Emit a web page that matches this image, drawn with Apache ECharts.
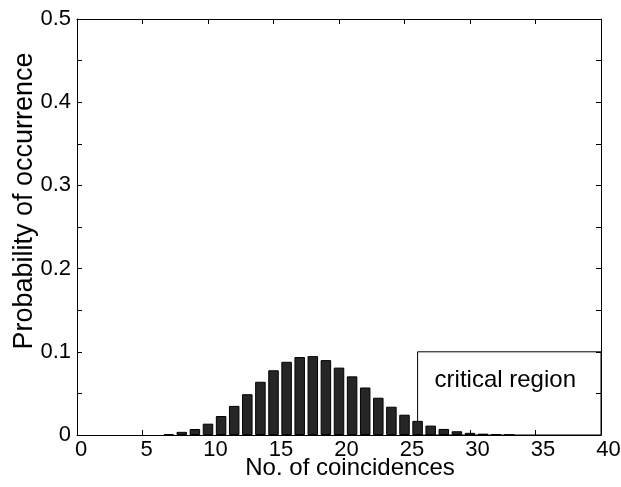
<!DOCTYPE html>
<html>
<head>
<meta charset="utf-8">
<script src="https://cdn.jsdelivr.net/npm/echarts@6/dist/echarts.min.js"></script>
<style>
html,body{margin:0;padding:0;background:#fff;}
#chart{width:621px;height:487px;}
</style>
</head>
<body>
<div id="chart"></div>
<script>
// Data
const coincidences = [7, 8, 9, 10, 11, 12, 13, 14, 15, 16, 17, 18, 19, 20,
                      21, 22, 23, 24, 25, 26, 27, 28, 29, 30, 31, 32, 33];
const probabilities = [0.0012, 0.0038, 0.0072, 0.0136, 0.0228, 0.0350, 0.0490, 0.0640, 0.0778, 0.0880,
                       0.0937, 0.0948, 0.0900, 0.0810, 0.0705, 0.0571, 0.0448, 0.0340, 0.0244, 0.0170,
                       0.0113, 0.0073, 0.0045, 0.0026, 0.0016, 0.0009, 0.0004];
const xTicks = [0, 5, 10, 15, 20, 25, 30, 35, 40];
const yTickLabels = ['0', '0.1', '0.2', '0.3', '0.4', '0.5'];
const criticalStart = 26;
const criticalEnd = 40;
const criticalTop = 0.1;
const criticalLabel = 'critical region';
const xTitle = 'No. of coincidences';
const yTitle = 'Probability of occurrence';

const FONT = "'Liberation Sans', Arial, Helvetica, sans-serif";
const chart = echarts.init(document.getElementById('chart'), null, {renderer: 'canvas'});

const seriesData = coincidences.map((c, i) => [c, probabilities[i]]);

const commonTick = {show: true, inside: true, length: 5, lineStyle: {color: '#000', width: 1}};
const commonLine = {show: true, onZero: false, lineStyle: {color: '#000', width: 1}};

chart.setOption({
  animation: false,
  backgroundColor: '#fff',
  grid: {left: 77, right: 20, top: 19, bottom: 52, containLabel: false, outerBoundsMode: 'none'},
  xAxis: [{
    type: 'value', min: xTicks[0], max: xTicks[xTicks.length - 1], interval: 5,
    position: 'bottom',
    axisLine: commonLine, axisTick: commonTick, splitLine: {show: false},
    axisLabel: {
      margin: 4, color: '#000', fontFamily: FONT, fontSize: 22,
      formatter: v => (v < 10 ? '{a|' + v + '}' : '{b|' + v + '}'),
      rich: {
        a: {padding: [0, 0, 0, 8], color: '#000', fontFamily: FONT, fontSize: 22},
        b: {padding: [0, 0, 0, 15], color: '#000', fontFamily: FONT, fontSize: 22}
      }
    },
    name: xTitle, nameLocation: 'middle', nameGap: 21, nameMoveOverlap: false,
    nameTextStyle: {color: '#000', fontFamily: FONT, fontSize: 24, padding: [0, 0, 0, 22]}
  }, {
    type: 'value', min: xTicks[0], max: xTicks[xTicks.length - 1], interval: 5,
    position: 'top',
    axisLine: commonLine, axisTick: commonTick, splitLine: {show: false},
    axisLabel: {show: false}
  }],
  yAxis: [{
    type: 'value', min: 0, max: 0.5, interval: 0.05,
    position: 'left',
    axisLine: commonLine, axisTick: commonTick, splitLine: {show: false},
    axisLabel: {
      margin: 6, color: '#000', fontFamily: FONT, fontSize: 22,
      formatter: v => {
        const k = Math.round(v * 100);
        return k % 10 === 0 ? yTickLabels[k / 10] : '';
      }
    },
    name: yTitle, nameLocation: 'middle', nameGap: 39, nameRotate: 90, nameMoveOverlap: false,
    nameTextStyle: {color: '#000', fontFamily: FONT, fontSize: 27, padding: [0, 0, 0, 52]}
  }, {
    type: 'value', min: 0, max: 0.5, interval: 0.05,
    position: 'right',
    axisLine: commonLine, axisTick: commonTick, splitLine: {show: false},
    axisLabel: {show: false}
  }],
  series: [{
    type: 'bar',
    xAxisIndex: 0, yAxisIndex: 0,
    data: seriesData,
    barWidth: 10.5,
    itemStyle: {color: '#262626', borderColor: '#000', borderWidth: 1},
    markArea: {
      silent: true,
      itemStyle: {color: 'rgba(0,0,0,0)', borderColor: '#000', borderWidth: 1},
      label: {
        show: true, position: 'insideTop', distance: 17, offset: [-4, 0],
        color: '#000', fontFamily: FONT, fontSize: 24
      },
      data: [[
        {name: criticalLabel, coord: [criticalStart, 0]},
        {coord: [criticalEnd, criticalTop]}
      ]]
    }
  }]
});
</script>
</body>
</html>
